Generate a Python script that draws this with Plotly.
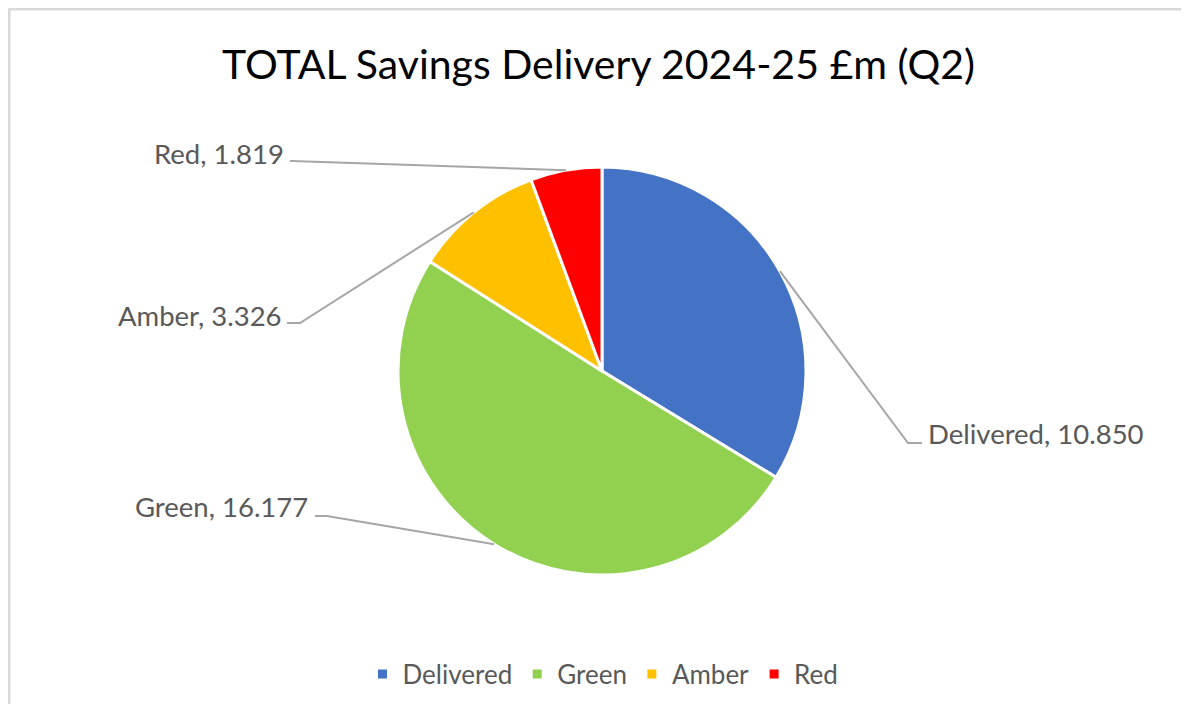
import math
import plotly.graph_objects as go

# ---- data ----
categories = ["Delivered", "Green", "Amber", "Red"]
values = [10.850, 16.177, 3.326, 1.819]
colors = ["#4472C4", "#92D050", "#FFC000", "#FF0000"]
title_text = "TOTAL Savings Delivery 2024-25 £m (Q2)"

# ---- layout / style (page pixel space) ----
OFF = 8  # page body margin offset
W, H = 1189 - 2 * OFF, 712 - 2 * OFF
CX, CY, R = 602, 371, 204
FONT = "Lato"
LABEL_COLOR = "#595959"
LINE_COLOR = "#A6A6A6"

# label placement: (elbow_x, elbow_y, tail_x, text_x, text_y, anchor)
label_style = {
    "Delivered": (908, 443, 922, 926, 433, "left"),
    "Green": (327, 516, 315, 310, 506, "right"),
    "Amber": (300, 323, 287, 284, 315, "right"),
    "Red": (292, 161, 290, 286, 153, "right"),
}


def px(x):
    return (x - OFF) / W


def py(y):
    return 1 - (y - OFF) / H


fig = go.Figure(
    go.Pie(
        labels=categories,
        values=values,
        sort=False,
        direction="clockwise",
        rotation=0,
        marker=dict(colors=colors, line=dict(color="white", width=3)),
        textinfo="none",
        hoverinfo="label+value",
        domain=dict(x=[px(CX - R), px(CX + R)], y=[py(CY + R), py(CY - R)]),
    )
)

shapes = []
annotations = []
total = sum(values)
cum = 0.0
for cat, val in zip(categories, values):
    mid = (cum + val / 2) / total * 2 * math.pi
    cum += val
    sx = CX + R * math.sin(mid)
    sy = CY - R * math.cos(mid)
    ex, ey, tx, lx, ly, anc = label_style[cat]
    path = f"M {px(sx)},{py(sy)} L {px(ex)},{py(ey)} L {px(tx)},{py(ey)}"
    shapes.append(dict(type="path", xref="paper", yref="paper", path=path,
                       line=dict(color=LINE_COLOR, width=2)))
    annotations.append(dict(
        x=px(lx), y=py(ly), xref="paper", yref="paper",
        text=f"{cat}, {val:.3f}", showarrow=False,
        xanchor=anc, yanchor="middle",
        font=dict(family=FONT, size=27.5, color=LABEL_COLOR),
    ))

# chart frame: only top and left edges visible
shapes.append(dict(type="line", xref="paper", yref="paper",
                   x0=px(8.5), y0=py(9), x1=px(1300), y1=py(9),
                   line=dict(color="#D9D9D9", width=3), layer="below"))
shapes.append(dict(type="line", xref="paper", yref="paper",
                   x0=px(9), y0=py(8.5), x1=px(9), y1=py(800),
                   line=dict(color="#D9D9D9", width=3), layer="below"))

annotations.append(dict(
    x=px(598), y=py(63), xref="paper", yref="paper", text=title_text,
    showarrow=False, xanchor="center", yanchor="middle",
    font=dict(family=FONT, size=41, color="#000000"),
))

fig.update_layout(
    width=W, height=H,
    margin=dict(l=0, r=0, t=0, b=0),
    paper_bgcolor="white",
    plot_bgcolor="white",
    shapes=shapes,
    annotations=annotations,
    showlegend=True,
    legend=dict(
        orientation="h", x=px(603), y=py(674), xanchor="center", yanchor="middle",
        font=dict(family=FONT, size=26, color=LABEL_COLOR),
        traceorder="normal",
    ),
)

fig.write_html("out.html")
